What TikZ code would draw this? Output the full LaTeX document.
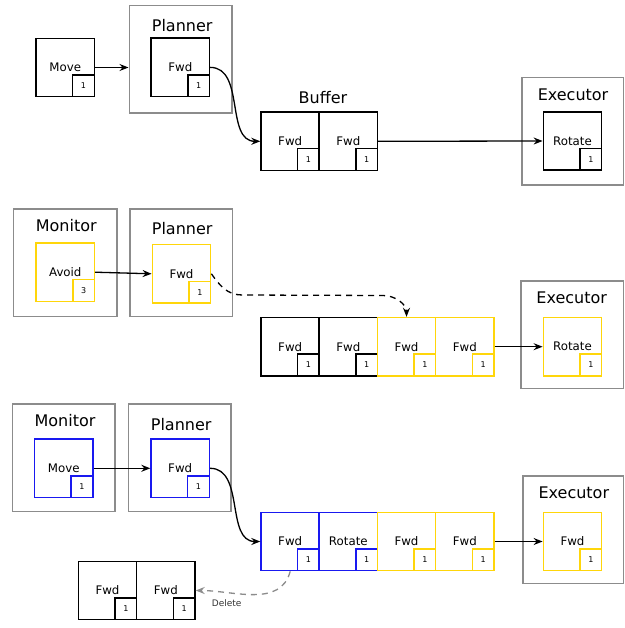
\documentclass[tikz,border=0pt]{standalone}
\usepackage{fontspec}
\setmainfont{DejaVu Sans}
\usetikzlibrary{arrows.meta}
\definecolor{yel}{RGB}{255,214,10}
\definecolor{blu}{RGB}{25,25,240}
\definecolor{cgray}{RGB}{140,140,140}
\tikzset{
  task/.style={draw, line width=1.5pt, minimum size=58.3pt, inner sep=0pt, font=\fontsize{11.8}{14}\selectfont},
  num/.style={draw, line width=1.5pt, minimum size=21.7pt, inner sep=0pt, font=\fontsize{8}{9}\selectfont},
  container/.style={draw=cgray, line width=1.6pt, inner sep=0pt},
  title/.style={font=\fontsize{16}{18}\selectfont, inner sep=0pt},
  arr/.style={line width=1.3pt, -{Stealth[length=9pt,width=7pt,inset=3pt]}},
  garr/.style={line width=1.3pt, draw=cgray, dash pattern=on 6pt off 5pt, -{Stealth[length=9pt,width=7pt,inset=3pt]}},
  darr/.style={line width=1.3pt, dash pattern=on 6pt off 5pt, -{Stealth[length=9pt,width=7pt,inset=3pt]}},
  lbl/.style={font=\fontsize{9}{10}\selectfont, inner sep=0pt, text=black!80}
}
\newcommand\taskbox[5]{%
  \node[task,draw=#3] (#1) at #2 {#4};
  \node[num,draw=#3,anchor=south east] (#1n) at (#1.south east) {#5};}
\newcommand\contbox[4]{% name, center, width, height
  \node[container, minimum width=#3pt, minimum height=#4pt] (#1) at #2 {};}
\begin{document}
\begin{tikzpicture}[x=1pt,y=-1pt]
\useasboundingbox (0,0) rectangle (624,628);
% ---------- Row 1 ----------
\taskbox{move1}{(65.2,67.5)}{black}{Move}{1}
\contbox{plan1}{(180.5,59.2)}{102.4}{107.7}
\node[title] (plan1t) at (182.2,25.8) {Planner};
\taskbox{fwd1}{(180.3,67.4)}{black}{Fwd}{1}
\node[title] (buf1t) at (323,97.5) {Buffer};
\taskbox{b1a}{(290.2,141.3)}{black}{Fwd}{1}
\taskbox{b1b}{(348.3,141.3)}{black}{Fwd}{1}
\contbox{exe1}{(572.5,131.2)}{101.6}{107.7}
\node[title] (exe1t) at (573,94.3) {Executor};
\taskbox{rot1}{(572.5,141.0)}{black}{Rotate}{1}
\draw[arr] (move1.east) -- (move1.east -| plan1.west);
\draw[arr] (fwd1.east) to[out=0,in=180] (b1a.west);
\draw[arr] (b1b.east) -- (rot1.west);
% ---------- Row 2 ----------
\contbox{mon2}{(65,262.8)}{103.4}{107.7}
\node[title] (mon2t) at (66.3,225.7) {Monitor};
\taskbox{avoid2}{(65.3,272.2)}{yel}{Avoid}{3}
\contbox{plan2}{(181.2,262.8)}{102.3}{107.7}
\node[title] (plan2t) at (182.2,228.6) {Planner};
\taskbox{fwd2}{(181.5,273.8)}{yel}{Fwd}{1}
\taskbox{b2a}{(290.2,346.7)}{black}{Fwd}{1}
\taskbox{b2b}{(348.3,346.7)}{black}{Fwd}{1}
\taskbox{b2c}{(406.5,346.7)}{yel}{Fwd}{1}
\taskbox{b2d}{(464.8,346.7)}{yel}{Fwd}{1}
\contbox{exe2}{(572,334.5)}{102.6}{107.6}
\node[title] (exe2t) at (571.7,297.3) {Executor};
\taskbox{rot2}{(572.5,346.7)}{yel}{Rotate}{1}
\draw[arr] (avoid2.east) -- (fwd2.west);
\coordinate (d1) at (242,295);
\coordinate (d2) at (383,295.5);
\draw[darr] (fwd2.east) to[out=-55,in=180] (d1) -- (d2) to[out=0,in=90] (b2c.north);
\draw[arr] (b2d.east) -- (rot2.west);
% ---------- Row 3 ----------
\contbox{mon3}{(63.7,457.8)}{102.7}{107.7}
\node[title] (mon3t) at (65,421) {Monitor};
\taskbox{move3}{(63.7,468.3)}{blu}{Move}{1}
\contbox{plan3}{(179.8,457.8)}{102.3}{107.7}
\node[title] (plan3t) at (181.2,424.3) {Planner};
\taskbox{fwd3}{(180.2,468.3)}{blu}{Fwd}{1}
\taskbox{b3a}{(290.2,541.5)}{blu}{Fwd}{1}
\taskbox{b3b}{(348.3,541.5)}{blu}{Rotate}{1}
\taskbox{b3c}{(406.5,541.5)}{yel}{Fwd}{1}
\taskbox{b3d}{(464.8,541.5)}{yel}{Fwd}{1}
\contbox{exe3}{(573,529.5)}{100.6}{107.6}
\node[title] (exe3t) at (573.8,492.3) {Executor};
\taskbox{fwd3e}{(572.5,541.5)}{yel}{Fwd}{1}
\taskbox{old1}{(107.5,590.5)}{black}{Fwd}{1}
\taskbox{old2}{(165.8,590.5)}{black}{Fwd}{1}
\draw[arr] (move3.east) -- (fwd3.west);
\draw[arr] (fwd3.east) to[out=0,in=180] (b3a.west);
\draw[arr] (b3d.east) -- (fwd3e.west);
\draw[garr] (b3a.south) to[out=-105,in=0] (old2.east);
\node[lbl] (del) at (226.7,603.5) {Delete};
\end{tikzpicture}
\end{document}
